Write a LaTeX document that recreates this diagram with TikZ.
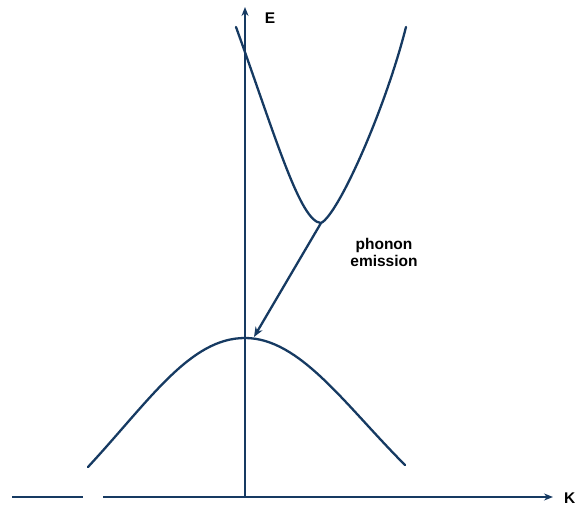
\documentclass[tikz,border=0pt]{standalone}
\usepackage{fontspec}
\setmainfont{Liberation Sans}
\usetikzlibrary{arrows.meta}
\definecolor{navy}{RGB}{22,58,98}
\begin{document}
\begin{tikzpicture}[x=1pt,y=-1pt,
  band/.style={draw=navy,line width=2.3pt,line cap=round},
  axis/.style={draw=navy,line width=1.5pt},
  lbl/.style={font=\fontsize{15.5}{17}\selectfont\bfseries,text=black,align=center,inner sep=0pt}]
\useasboundingbox (0,0) rectangle (576,508);
% axes
\coordinate (o) at (245,497);
\coordinate (etop) at (245,7);
\coordinate (kl) at (12,497);
\coordinate (kg1) at (83,497);
\coordinate (kg2) at (103,497);
\coordinate (kr) at (553,497);
\draw[axis,-{Stealth[length=9pt,width=7pt]}] (o) -- (etop);
\draw[axis] (kl) -- (kg1);
\draw[axis,-{Stealth[length=9pt,width=7pt]}] (kg2) -- (kr);
\node[lbl] (E) at (270,18) {E};
\node[lbl,anchor=west] (K) at (564,498) {K};
% conduction band
\coordinate (c1) at (236,27);
\coordinate (cmin) at (321,223);
\coordinate (c2) at (406,27);
\draw[band] (c1) .. controls (275,135) and (300,222) .. (cmin) .. controls (338,215) and (385,110) .. (c2);
% valence band
\coordinate (v1) at (88,467);
\coordinate (vtop) at (245,338);
\coordinate (v2) at (405,465);
\draw[band] (v1) .. controls (150,400) and (190,338) .. (vtop) .. controls (300,338) and (345,405) .. (v2);
% transition
\draw[band,-{Stealth[length=10pt,width=8pt]}] (cmin) -- (254,337);
\node[lbl] (ph) at (384,252) {phonon\\emission};
\end{tikzpicture}
\end{document}
